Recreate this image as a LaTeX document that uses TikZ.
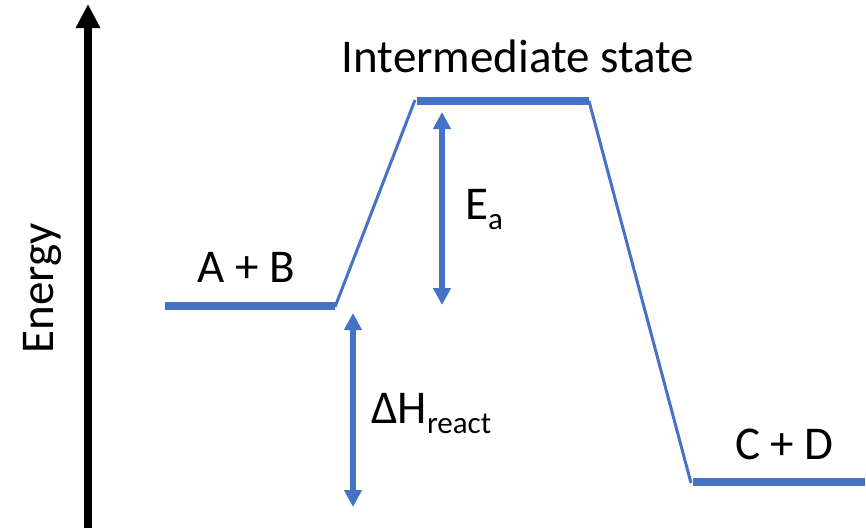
\documentclass[tikz,border=0pt]{standalone}
\usepackage{fontspec}
\setmainfont{Carlito}
\usetikzlibrary{arrows.meta}
\definecolor{lvlblue}{RGB}{68,114,196}
\newcommand{\subtxt}[1]{\raisebox{-10pt}{\fontsize{31}{31}\selectfont #1}}
\begin{document}
\begin{tikzpicture}[x=1pt,y=-1pt,
  level/.style={draw=lvlblue,line width=8pt,line cap=butt},
  slope/.style={draw=lvlblue,line width=3pt},
  dbl/.style={draw=lvlblue,line width=6pt,{Triangle[width=17pt,length=17pt]}-{Triangle[width=17pt,length=17pt]}},
  lbl/.style={font=\fontsize{47}{56}\selectfont,inner sep=0pt,anchor=base}]
\useasboundingbox (0,0) rectangle (866,528);
% axis
\coordinate (axb) at (88,528);
\coordinate (axt) at (88,4);
\draw[line width=8pt,-{Triangle[width=23pt,length=24pt]}] (axb) -- (axt);
\node[lbl,rotate=90] (energy) at (53,288) {Energy};
% levels
\coordinate (ab1) at (165,306);
\coordinate (ab2) at (335,306);
\coordinate (is1) at (417,101);
\coordinate (is2) at (589,101);
\coordinate (cd1) at (693,482);
\coordinate (cd2) at (865,482);
\draw[level] (ab1) -- (ab2);
\draw[level] (is1) -- (is2);
\draw[level] (cd1) -- (cd2);
\coordinate (s1a) at (335,307);
\coordinate (s1b) at (415,100);
\coordinate (s2a) at (589,101);
\coordinate (s2b) at (691,483);
\draw[slope] (s1a) -- (s1b);
\draw[slope] (s2a) -- (s2b);
% arrows
\coordinate (ea1) at (442,112);
\coordinate (ea2) at (442,305);
\coordinate (dh1) at (353,313);
\coordinate (dh2) at (353,507);
\draw[dbl] (ea1) -- (ea2);
\draw[dbl] (dh1) -- (dh2);
% labels
\node[lbl] (inter) at (518,72) {Intermediate state};
\node[lbl] (ab) at (246.5,282) {A + B};
\node[lbl] (cd) at (784.5,459) {C + D};
\node[lbl,anchor=base west] (ea) at (465,219) {E\subtxt{a}};
\node[lbl,anchor=base west] (dh) at (371,423) {ΔH\subtxt{react}};
\end{tikzpicture}
\end{document}
